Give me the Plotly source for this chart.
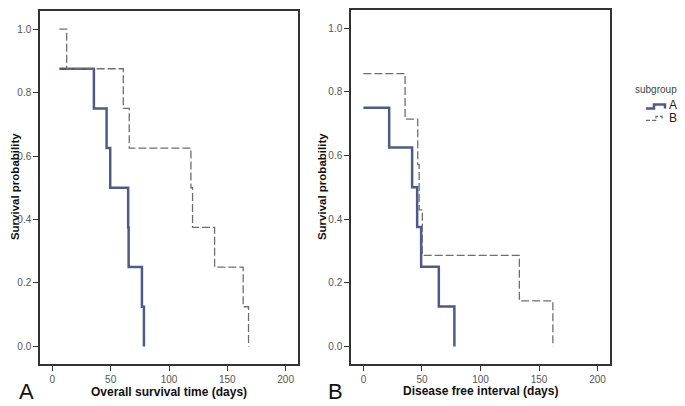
import plotly.graph_objects as go

# ---- data ----
os_time_A = [6, 35.6, 46.5, 49.6, 65.0, 65.4, 76.8, 78.5]
os_surv_A = [0.875, 0.75, 0.625, 0.5, 0.375, 0.25, 0.125, 0.0]
os_time_B = [6, 12.3, 60.8, 65.9, 118.8, 120.2, 139.1, 163.6, 168.2]
os_surv_B = [1.0, 0.875, 0.75, 0.625, 0.5, 0.375, 0.25, 0.125, 0.0]

dfi_time_A = [0, 22, 41.6, 45.9, 49.3, 64.4, 77.7]
dfi_surv_A = [0.75, 0.625, 0.5, 0.375, 0.25, 0.125, 0.0]
dfi_time_B = [0, 35.6, 46.4, 47.6, 50.3, 133.2, 161.8]
dfi_surv_B = [0.857, 0.714, 0.571, 0.429, 0.286, 0.143, 0.0]

x_ticks = [0, 50, 100, 150, 200]
y_ticks = [0.0, 0.2, 0.4, 0.6, 0.8, 1.0]
group_names = ["A", "B"]

# page body has an 8px default margin: draw in a 677x398 figure offset by 8px
OFF = 8
W, H = 685 - OFF, 406 - OFF
COL_A = "#4c5b8c"
COL_B = "#6e6e6e"
FONT = "Liberation Sans, Arial, sans-serif"

fig = go.Figure()

def add(t, s, xa, ya, name, color, width, dash):
    fig.add_trace(go.Scatter(
        x=t, y=s, xaxis=xa, yaxis=ya, mode="lines", line_shape="hv",
        line=dict(color=color, width=width, dash=dash),
        name=name, showlegend=False, hoverinfo="skip"))

add(os_time_A, os_surv_A, "x", "y", group_names[0], COL_A, 2.5, "solid")
add(os_time_B, os_surv_B, "x", "y", group_names[1], COL_B, 1.3, "8px,3px")
add(dfi_time_A, dfi_surv_A, "x2", "y2", group_names[0], COL_A, 2.5, "solid")
add(dfi_time_B, dfi_surv_B, "x2", "y2", group_names[1], COL_B, 1.3, "8px,3px")

def px_x(p):
    return (p - OFF) / W

def px_y(p):
    return 1 - (p - OFF) / H

xaxis_common = dict(range=[-10.6, 210.6], tickvals=x_ticks, ticks="outside", ticklen=5,
                    tickcolor="#333", showline=True, linecolor="#333", linewidth=1.5,
                    mirror=True, showgrid=False, zeroline=False,
                    tickfont=dict(size=10, color="#555", family=FONT))
yaxis_common = dict(range=[-0.056, 1.057], tickvals=y_ticks, tickformat=".1f",
                    ticks="outside", ticklen=5, tickcolor="#333", showline=True,
                    linecolor="#333", linewidth=1.5, mirror=True, showgrid=False,
                    zeroline=False, tickfont=dict(size=10, color="#555", family=FONT))

fig.update_layout(
    width=W, height=H, paper_bgcolor="white", plot_bgcolor="white",
    margin=dict(l=0, r=0, t=0, b=0),
    xaxis=dict(domain=[px_x(40), px_x(298)], anchor="y", **xaxis_common),
    yaxis=dict(domain=[px_y(364), px_y(9)], anchor="x", **yaxis_common),
    xaxis2=dict(domain=[px_x(351), px_x(610)], anchor="y2", **xaxis_common),
    yaxis2=dict(domain=[px_y(364), px_y(8)], anchor="x2", **yaxis_common),
    showlegend=False,
    font=dict(family=FONT),
)

ann = [
    dict(text="<b>Survival probability</b>", x=15, y=186, angle=-90, size=11.5, color="#111", xa="center"),
    dict(text="<b>Survival probability</b>", x=322, y=186, angle=-90, size=11.5, color="#111", xa="center"),
    dict(text="<b>Overall survival time (days)</b>", x=169, y=391.5, angle=0, size=12, color="#111", xa="center"),
    dict(text="<b>Disease free interval (days)</b>", x=480.5, y=391, angle=0, size=12, color="#111", xa="center"),
    dict(text="A", x=26, y=391, angle=0, size=22, color="#111", xa="center"),
    dict(text="B", x=335, y=391, angle=0, size=22, color="#111", xa="center"),
    # legend (drawn by hand so it fits in the right margin like the reference)
    dict(text="subgroup", x=634, y=88, angle=0, size=10, color="#444", xa="left"),
    dict(text=group_names[0], x=668, y=103, angle=0, size=12, color="#222", xa="left"),
    dict(text=group_names[1], x=668, y=117, angle=0, size=12, color="#222", xa="left"),
]
for a in ann:
    fig.add_annotation(text=a["text"], x=px_x(a["x"]), y=px_y(a["y"]), xref="paper", yref="paper",
                       xanchor=a["xa"], yanchor="middle", showarrow=False,
                       textangle=a["angle"], borderpad=0,
                       font=dict(size=a["size"], color=a["color"], family=FONT))

def path(points):
    return "M " + " L ".join(f"{px_x(x):.5f},{px_y(y):.5f}" for x, y in points)

fig.add_shape(type="path", xref="paper", yref="paper",
              path=path([(646, 107), (654, 107), (654, 103), (665, 103), (665, 107)]),
              line=dict(color=COL_A, width=2.5))
fig.add_shape(type="path", xref="paper", yref="paper",
              path=path([(646, 119), (656, 119), (656, 115), (662, 115), (662, 117)]),
              line=dict(color=COL_B, width=1.3, dash="4px,2px"))

fig.write_html("out.html")
